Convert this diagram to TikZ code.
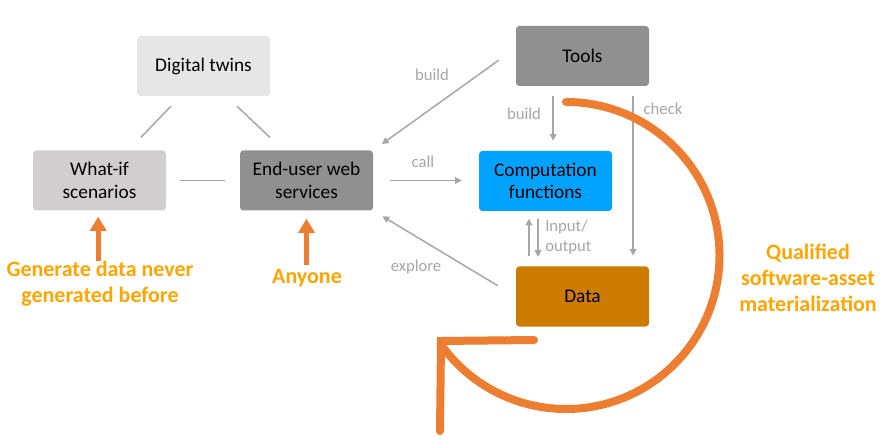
\documentclass[tikz,border=0pt]{standalone}
\usepackage{fontspec}
\setmainfont{Carlito}
\usetikzlibrary{arrows.meta}
\definecolor{lgray}{HTML}{A6A6A6}
\definecolor{dtfill}{HTML}{E6E6E6}
\definecolor{wifill}{HTML}{D0CECE}
\definecolor{dkfill}{HTML}{909090}
\definecolor{compfill}{HTML}{00A2FF}
\definecolor{datafill}{HTML}{CC7C00}
\definecolor{oline}{HTML}{ED7D31}
\definecolor{otext}{HTML}{FFA500}
\tikzset{
  box/.style={rounded corners=2.5pt, minimum width=99.75pt, minimum height=45pt,
    align=center, text=black, font=\fontsize{14.5}{16.8}\selectfont, inner sep=0pt},
  conn/.style={draw=lgray, line width=1.1pt},
  carrow/.style={conn, -{Triangle[length=5pt,width=5pt]}},
  lbl/.style={text=lgray, font=\fontsize{12.5}{15}\selectfont, inner sep=0pt},
  olbl/.style={text=otext, font=\bfseries\fontsize{16.5}{19.5}\selectfont, align=center, inner sep=0pt},
  oarrow/.style={draw=oline, line width=3.8pt, -{Triangle[length=10.5pt,width=12pt]}},
  bigline/.style={draw=oline, line width=6pt, line cap=round}
}
\begin{document}
\begin{tikzpicture}[x=0.75pt,y=-0.75pt]
\useasboundingbox (0,0) rectangle (887,441);
% boxes
\node[box, fill=dtfill] (dt) at (203.5,66) {Digital twins};
\node[box, fill=wifill] (wi) at (99.5,180.5) {What-if\\scenarios};
\node[box, fill=dkfill] (eu) at (306.5,180.5) {End-user web\\services};
\node[box, fill=dkfill] (tools) at (582.5,56) {Tools};
\node[box, fill=compfill] (comp) at (545.5,181) {Computation\\functions};
\node[box, fill=datafill] (data) at (582.5,296.5) {Data};
% undirected links
\draw[conn, shorten <=10.3pt, shorten >=13.4pt] ([xshift=-17.25pt]dt.south) -- ([xshift=21.75pt]wi.north);
\draw[conn, shorten <=10.8pt, shorten >=14pt] ([xshift=17.25pt]dt.south) -- ([xshift=-17.25pt]eu.north);
\draw[conn, shorten <=10.5pt, shorten >=11pt] (wi.east) -- (eu.west);
% arrows
\draw[carrow, shorten <=15.6pt, shorten >=8pt] ([yshift=6pt]tools.west) -- (eu.north east);
\draw[carrow, shorten <=7.5pt, shorten >=7.5pt] ([xshift=-22pt]tools.south) -- ([xshift=-22pt]tools.south |- comp.north);
\draw[carrow, shorten <=7.5pt, shorten >=8pt] ([xshift=37.9pt]tools.south) -- ([xshift=37.9pt]data.north);
\draw[carrow, shorten <=12.75pt, shorten >=12.75pt] (eu.east) -- (eu.east -| comp.west);
\draw[carrow, shorten <=15.6pt, shorten >=8pt] (data.west) -- (eu.south east);
\draw[carrow, shorten <=8pt, shorten >=5.5pt] ([xshift=-12.4pt]comp.south |- data.north) -- ([xshift=-12.4pt]comp.south);
\draw[carrow, shorten <=5.5pt, shorten >=7pt] ([xshift=-5.6pt]comp.south) -- ([xshift=-5.6pt]comp.south |- data.north);
% labels
\node[lbl] (l1) at (432,75) {build};
\node[lbl] (l2) at (524,114) {build};
\node[lbl] (l3) at (663,109) {check};
\node[lbl] (l4) at (423,162) {call};
\node[lbl] (l5) at (416,267) {explore};
\node[lbl, anchor=west, align=left, font=\fontsize{12.5}{14.5}\selectfont] (l6) at (545,237) {Input/\\output};
% orange texts
\node[olbl] (gen) at (100,283.5) {Generate data never\\generated before};
\node[olbl] (any) at (307,278) {Anyone};
\node[olbl] (qual) at (808,278) {Qualified\\software-asset\\materialization};
\draw[oarrow, shorten <=0pt, shorten >=4.5pt] ([xshift=-1pt]wi.south |- gen.north) -- ([xshift=-1pt]wi.south);
\draw[oarrow, shorten <=3pt, shorten >=6pt] (eu.south |- any.north) -- (eu.south);
% big cycle arrow
\coordinate (arcstart) at (566,102);
\coordinate (corner) at (441,341);
\coordinate (hend) at (534,340);
\coordinate (vend) at (440,431);
\draw[bigline] (arcstart) arc[start angle=-90, end angle=143.3, radius=153.5];
\draw[bigline, line join=miter] (hend) -- (corner) -- (vend);
\end{tikzpicture}
\end{document}
